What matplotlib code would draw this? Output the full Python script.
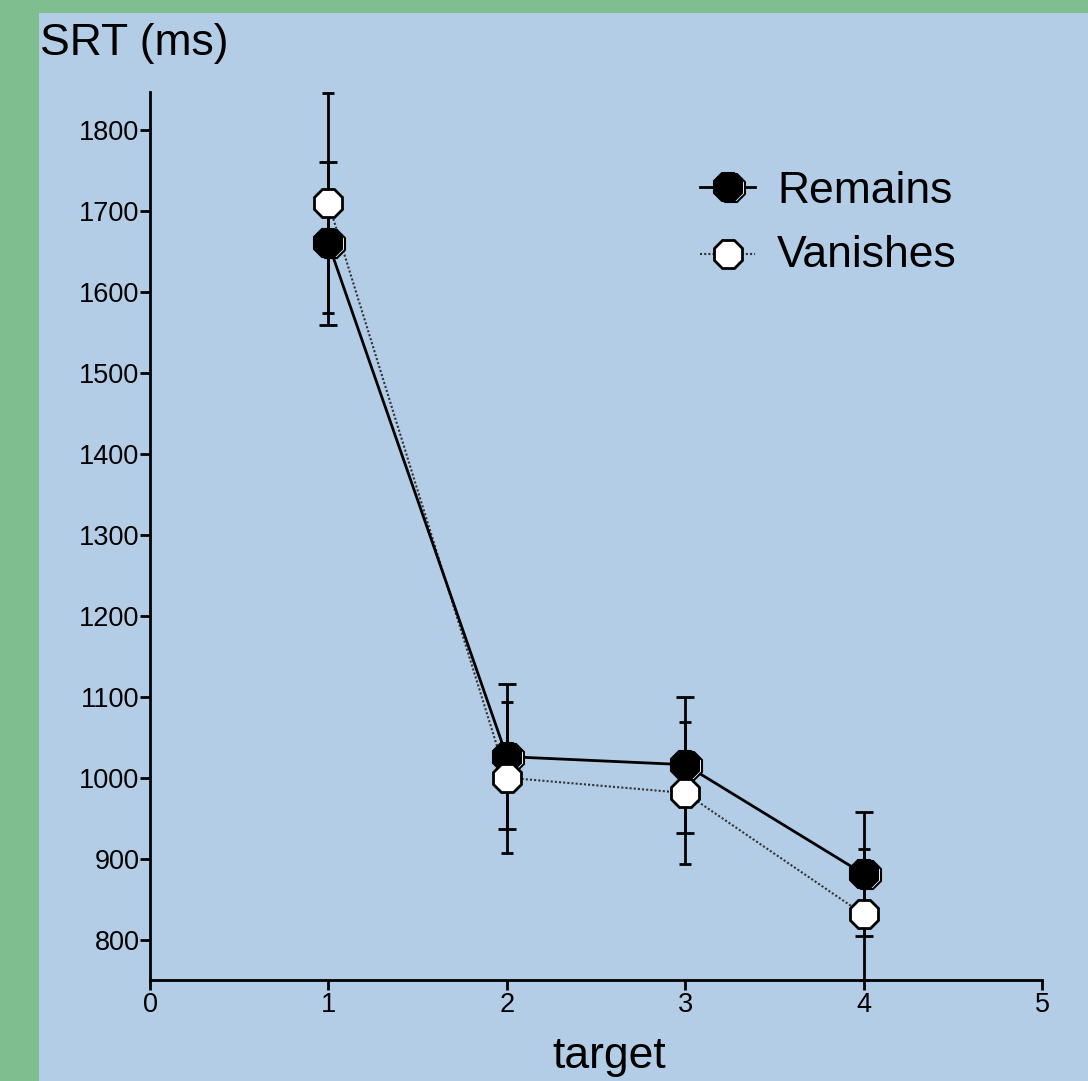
import matplotlib.pyplot as plt
import matplotlib.transforms as mtransforms
from matplotlib.patches import Rectangle
import numpy as np

plt.rcParams['font.family'] = ['Liberation Sans', 'DejaVu Sans']

# data
targets = [1, 2, 3, 4]
remains_mean = [1660, 1026, 1016, 881]
remains_err = [101, 90, 84, 77]
vanishes_mean = [1710, 1000, 981, 831]
vanishes_err = [136, 93, 88, 81]

x_ticks = [0, 1, 2, 3, 4, 5]
y_ticks = [800, 900, 1000, 1100, 1200, 1300, 1400, 1500, 1600, 1700, 1800]

fig = plt.figure(figsize=(10.88, 10.81), dpi=100)
fig.patch.set_facecolor('#7fbf8f')
fig.patches.append(Rectangle((39 / 1088, 0), 1, (1081 - 13) / 1081,
                             transform=fig.transFigure, facecolor='#b3cde6',
                             edgecolor='none', zorder=-5))

ax = fig.add_axes([150 / 1088, 101 / 1081, 892 / 1088, 888 / 1081])
ax.set_facecolor('none')

# error bars (vanishes has narrower caps)
ax.errorbar(targets, vanishes_mean, yerr=vanishes_err, fmt='none', ecolor='black',
            elinewidth=2, capsize=4, capthick=2, zorder=2, clip_on=False)
ax.errorbar(targets, remains_mean, yerr=remains_err, fmt='none', ecolor='black',
            elinewidth=2, capsize=6.5, capthick=2, zorder=2, clip_on=False)

# lines
ax.plot(targets, vanishes_mean, color='#333333', ls=(0, (1, 1)), lw=1.5, zorder=3)
ax.plot(targets, remains_mean, color='black', ls='-', lw=2, zorder=3)

ms = 22
# remains: offset hollow outline behind black marker
off = mtransforms.offset_copy(ax.transData, fig=fig, x=3, y=-1, units='dots')
ax.plot(targets, remains_mean, ls='none', marker='8', ms=ms, mfc='white', mec='black',
        mew=1.5, transform=off, zorder=4)
ax.plot(targets, remains_mean, ls='none', marker='8', ms=ms, mfc='black', mec='black',
        mew=1.5, zorder=5)
ax.plot(targets, vanishes_mean, ls='none', marker='8', ms=ms, mfc='white', mec='black',
        mew=2, zorder=5)

ax.set_xlim(0, 5)
ax.set_ylim(750, 1847)
ax.set_xticks(x_ticks)
ax.set_yticks(y_ticks)
ax.tick_params(axis='both', direction='out', length=7, width=2, labelsize=19.5)
ax.tick_params(axis='y', pad=0.5)
ax.tick_params(axis='x', pad=2)
for s in ['top', 'right']:
    ax.spines[s].set_visible(False)
for s in ['left', 'bottom']:
    ax.spines[s].set_linewidth(2)

fig.text(609 / 1088, 13 / 1081, 'target', fontsize=32, ha='center', va='baseline')
fig.text(40 / 1088, 1 - 55 / 1081, 'SRT (ms)', fontsize=32, ha='left', va='baseline')

# legend drawn by hand in axes space
leg_x = [0.6166, 0.678]
mx = 0.648
ax.plot(leg_x, [0.893, 0.893], transform=ax.transAxes, color='black', lw=2, clip_on=False)
ax.plot([mx], [0.893], transform=mtransforms.offset_copy(ax.transAxes, fig=fig, x=3, y=-1, units='dots'),
        marker='8', ms=ms, mfc='white', mec='black', mew=1.5, ls='none')
ax.plot([mx], [0.893], transform=ax.transAxes, marker='8', ms=ms, mfc='black',
        mec='black', mew=1.5, ls='none')
ax.text(0.703, 0.875, 'Remains', transform=ax.transAxes, fontsize=32, va='baseline')
ax.plot(leg_x, [0.8176, 0.8176], transform=ax.transAxes, color='#333333', ls=(0, (1, 1)), lw=1.5)
ax.plot([mx], [0.8176], transform=ax.transAxes, marker='8', ms=ms, mfc='white',
        mec='black', mew=2, ls='none')
ax.text(0.703, 0.803, 'Vanishes', transform=ax.transAxes, fontsize=32, va='baseline')

fig.savefig('out.png', dpi=100, facecolor=fig.get_facecolor())
